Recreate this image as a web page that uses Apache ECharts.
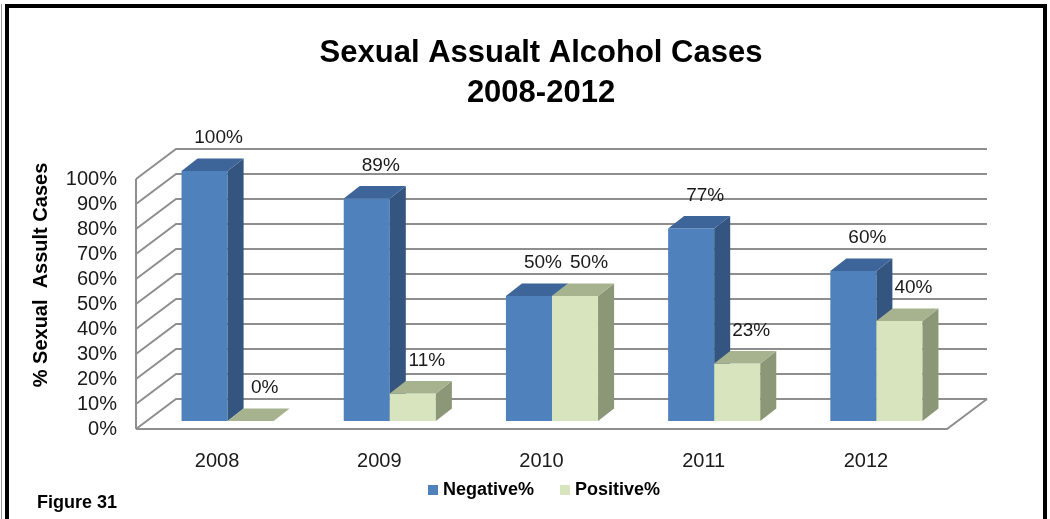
<!DOCTYPE html>
<html>
<head>
<meta charset="utf-8">
<title>Sexual Assualt Alcohol Cases 2008-2012</title>
<script src="https://cdn.jsdelivr.net/npm/echarts@6/dist/echarts.min.js"></script>
<style>
  html, body { margin: 0; padding: 0; background: #ffffff; }
  #chart { width: 1050px; height: 519px; }
</style>
</head>
<body>
<div id="chart"></div>
<script>
// Data
const categories = ['2008', '2009', '2010', '2011', '2012'];
const negativePct = [100, 89, 50, 77, 60];
const positivePct = [0, 11, 50, 23, 40];
const valueTicks = [0, 10, 20, 30, 40, 50, 60, 70, 80, 90, 100];

// Oblique projection used for the 3D look (pixels)
const WALL_DX = 40, WALL_DY = -30;      // floor depth, front edge to back wall
const FRONT_DX = 10.5, FRONT_DY = -8;   // bar front face sits a little behind the front edge
const BAR_DX = 16, BAR_DY = -12.5;      // bar depth
const BAR_RATIO = 0.284;                // bar width as a share of one category band

const NEG = { front: '#4F81BD', top: '#3D6599', side: '#34557F' };
const POS = { front: '#D7E4BD', top: '#A7B38F', side: '#8C9777' };
const GRID_COLOR = '#8E8E8E';
const FONT = '"Liberation Sans", Arial, sans-serif';

function wallItem(params, api) {
  const cs = params.coordSys;
  const x0 = cs.x, x1 = cs.x + cs.width;
  const y = api.coord([0, api.value(1)])[1];
  const children = [{
    type: 'polyline',
    shape: { points: [[x0, y], [x0 + WALL_DX, y + WALL_DY], [x1 + WALL_DX, y + WALL_DY]] },
    style: { stroke: GRID_COLOR, lineWidth: 2, fill: null }
  }];
  if (api.value(1) === 0) {
    const yTop = api.coord([0, 100])[1];
    children.push({
      type: 'polyline',
      shape: { points: [[x0, y], [x1, y], [x1 + WALL_DX, y + WALL_DY]] },
      style: { stroke: GRID_COLOR, lineWidth: 2, fill: null }
    });
    children.push({
      type: 'line',
      shape: { x1: x0, y1: yTop, x2: x0, y2: y },
      style: { stroke: GRID_COLOR, lineWidth: 2 }
    });
  }
  return { type: 'group', children: children };
}

function barItemFactory(colors, side) {
  return function (params, api) {
    const idx = api.value(0);
    const val = api.value(1);
    const base = api.coord([idx, 0]);
    const top = api.coord([idx, val]);
    const band = api.size([1, 0])[0];
    const bw = band * BAR_RATIO;
    const L = (side < 0 ? base[0] - bw : base[0]) + FRONT_DX;
    const T = top[1] + FRONT_DY;
    const B = base[1] + FRONT_DY;
    const R = L + bw;
    return {
      type: 'group',
      children: [
        {
          type: 'rect',
          shape: { x: L, y: T, width: bw, height: B - T },
          style: { fill: colors.front }
        },
        {
          type: 'polygon',
          shape: { points: [[R, T], [R + BAR_DX, T + BAR_DY], [R + BAR_DX, B + BAR_DY], [R, B]] },
          style: { fill: colors.side }
        },
        {
          type: 'polygon',
          shape: { points: [[L, T], [R, T], [R + BAR_DX, T + BAR_DY], [L + BAR_DX, T + BAR_DY]] },
          style: { fill: colors.top }
        },
        {
          type: 'text',
          style: {
            x: L + bw / 2 + 14, y: T - 33,
            text: val + '%',
            align: 'center', verticalAlign: 'middle',
            font: '19px ' + FONT, fill: '#1a1a1a'
          }
        }
      ]
    };
  };
}

const chart = echarts.init(document.getElementById('chart'), null, { renderer: 'canvas' });

chart.setOption({
  backgroundColor: '#ffffff',
  animation: false,
  title: {
    text: 'Sexual Assualt Alcohol Cases\n2008-2012',
    left: 536,
    top: 28,
    textAlign: 'center',
    textStyle: {
      fontFamily: FONT, fontWeight: 'bold', fontSize: 31,
      lineHeight: 40, color: '#000000'
    }
  },
  legend: {
    left: 423,
    top: 476,
    itemWidth: 10,
    itemHeight: 10,
    itemGap: 26,
    icon: 'rect',
    textStyle: { fontFamily: FONT, fontWeight: 'bold', fontSize: 18, color: '#000000' },
    data: ['Negative%', 'Positive%']
  },
  grid: { left: 136, right: 103, top: 179, bottom: 90, containLabel: false },
  xAxis: {
    type: 'category',
    data: categories,
    boundaryGap: true,
    axisLine: { show: false },
    axisTick: { show: false },
    splitLine: { show: false },
    axisLabel: { margin: 22, fontFamily: FONT, fontSize: 20, color: '#1a1a1a' }
  },
  yAxis: {
    type: 'value',
    min: 0,
    max: 100,
    interval: 10,
    axisLine: { show: false },
    axisTick: { show: false },
    splitLine: { show: false },
    axisLabel: {
      margin: 19,
      formatter: '{value}%',
      fontFamily: FONT, fontSize: 20, color: '#1a1a1a',
      padding: [8, 0, 0, 0]
    }
  },
  graphic: [
    {
      type: 'rect',
      shape: { x: 7, y: 6, width: 1038, height: 600 },
      style: { fill: null, stroke: '#000000', lineWidth: 4 },
      silent: true
    },
    {
      type: 'line',
      shape: { x1: 1.5, y1: 4, x2: 1.5, y2: 519 },
      style: { stroke: '#9a9a9a', lineWidth: 1 },
      silent: true
    },
    {
      type: 'text',
      x: 41, y: 275,
      rotation: Math.PI / 2,
      style: {
        text: '% Sexual  Assult Cases',
        align: 'center', verticalAlign: 'middle',
        font: 'bold 20px ' + FONT, fill: '#000000'
      },
      silent: true
    },
    {
      type: 'text',
      x: 37, y: 503,
      style: {
        text: 'Figure 31',
        align: 'left', verticalAlign: 'middle',
        font: 'bold 18px ' + FONT, fill: '#000000'
      },
      silent: true
    }
  ],
  series: [
    {
      name: 'walls',
      type: 'custom',
      renderItem: wallItem,
      data: valueTicks.map(v => [0, v]),
      silent: true,
      z: 1
    },
    {
      name: 'Negative%',
      type: 'custom',
      renderItem: barItemFactory(NEG, -1),
      data: negativePct.map((v, i) => [i, v]),
      itemStyle: { color: NEG.front },
      z: 2
    },
    {
      name: 'Positive%',
      type: 'custom',
      renderItem: barItemFactory(POS, 1),
      data: positivePct.map((v, i) => [i, v]),
      itemStyle: { color: POS.front },
      z: 3
    }
  ]
});
</script>
</body>
</html>
